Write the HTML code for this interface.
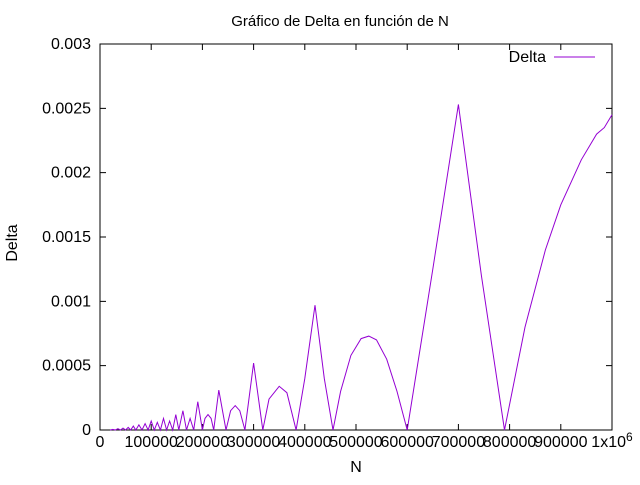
<!DOCTYPE html>
<html><head><meta charset="utf-8"><style>
body{margin:0;background:#fff}
svg{font-family:"Liberation Sans",sans-serif;font-size:16px}
</style></head><body>
<svg width="640" height="480">
<rect width="640" height="480" fill="#fff"/>
<text x="340" y="26" text-anchor="middle" font-size="15">Gráfico de Delta en función de N</text>
<g id="ticks"></g>
<rect x="100" y="44" width="512" height="386" fill="none" stroke="#000"/>
<path id="series" fill="none" stroke="#9400d3" stroke-width="1"/>
<text x="356" y="472" text-anchor="middle">N</text>
<text transform="translate(17,243) rotate(-90)" text-anchor="middle">Delta</text>
<g>
<text x="546" y="62" text-anchor="end">Delta</text>
<line x1="554" y1="57" x2="595" y2="57" stroke="#9400d3"/>
</g>
</svg>
<script>
const xTicks=[0,100000,200000,300000,400000,500000,600000,700000,800000,900000];
const yTicks=[0,0.0005,0.001,0.0015,0.002,0.0025,0.003];
const yTickLabels=["0","0.0005","0.001","0.0015","0.002","0.0025","0.003"];
const nValues=[
20000,25000,30000,35000,40000,45000,50000,55000,60000,65000,
70000,76000,82000,88000,94000,100000,106000,112000,118000,124000,
130000,136000,142000,148000,154000,162000,169000,176000,183000,191000,
200000,205000,211000,217000,222000,232000,246000,255000,264000,273000,
283000,300000,318000,330000,350000,365000,383000,400000,420000,438000,
455000,470000,490000,510000,525000,540000,560000,580000,600000,650000,
700000,745000,790000,830000,870000,900000,940000,970000,985000,1000000];
const deltaValues=[
0,0.000005,0,0.00001,0,0.000015,0,0.00002,0,0.00003,
0,0.00004,0,0.00005,0,0.00007,0,0.00006,0,0.00009,
0,0.00007,0,0.00012,0,0.00015,0,0.00009,0,0.00022,
0,0.00009,0.00012,0.00009,0,0.00031,0,0.00015,0.00019,0.00015,
0,0.00052,0,0.00024,0.00034,0.00029,0,0.0004,0.00097,0.0004,
0,0.0003,0.00058,0.00071,0.00073,0.0007,0.00055,0.0003,0,0.00125,
0.00253,0.0012,0,0.0008,0.0014,0.00175,0.0021,0.0023,0.00235,0.00245];
const X=n=>100+n/1e6*512, Y=d=>430-d/0.003*386;
const g=document.getElementById('ticks');
const NS='http://www.w3.org/2000/svg';
function mk(t,a){const e=document.createElementNS(NS,t);for(const k in a)e.setAttribute(k,a[k]);g.appendChild(e);return e;}
xTicks.forEach(v=>{const x=X(v);
 const t=mk('path',{d:`M${x},430v-6M${x},44v6`,stroke:'#000'});
 
 
 const l=mk('text',{x:x,y:447,'text-anchor':'middle'});l.textContent=v;
 
 
});
const e6=mk('text',{x:612,y:447,'text-anchor':'middle'});e6.innerHTML='1x10<tspan dy="-6" font-size="12">6</tspan>';


yTicks.forEach((v,i)=>{const y=Y(v);
 const t=mk('path',{d:`M100,${y}h6M612,${y}h-6`,stroke:'#000'});
 
 
 const l=mk('text',{x:91,y:y+5,'text-anchor':'end'});l.textContent=yTickLabels[i];
 
 
});
const len=Math.min(nValues.length,deltaValues.length);
document.getElementById('series').setAttribute('d',nValues.slice(0,len).map((n,i)=>(i?'L':'M')+X(n).toFixed(1)+','+Y(deltaValues[i]).toFixed(1)).join(''));
</script>
</body></html>
